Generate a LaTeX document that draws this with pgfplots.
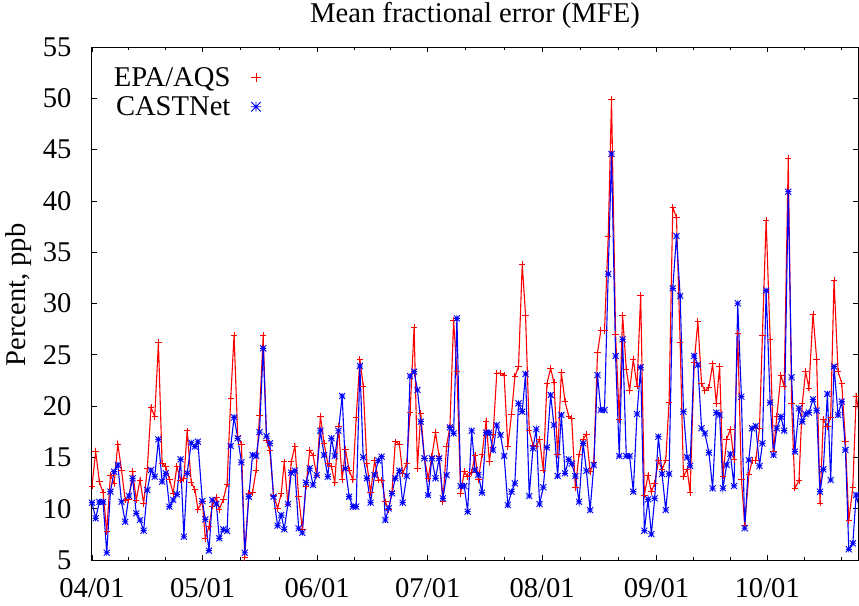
\documentclass[border=0pt]{standalone}
\usepackage{pgfplots}
\usepackage{pgfplotstable}
\pgfplotsset{compat=1.18}
\usepackage{fontspec}
\setmainfont{Liberation Serif}
\pgfdeclareplotmark{gpstar}{%
 \pgfpathmoveto{\pgfqpoint{-\pgfplotmarksize}{0pt}}\pgfpathlineto{\pgfqpoint{\pgfplotmarksize}{0pt}}%
 \pgfpathmoveto{\pgfqpoint{0pt}{-\pgfplotmarksize}}\pgfpathlineto{\pgfqpoint{0pt}{\pgfplotmarksize}}%
 \pgfpathmoveto{\pgfqpoint{-\pgfplotmarksize}{-\pgfplotmarksize}}\pgfpathlineto{\pgfqpoint{\pgfplotmarksize}{\pgfplotmarksize}}%
 \pgfpathmoveto{\pgfqpoint{-\pgfplotmarksize}{\pgfplotmarksize}}\pgfpathlineto{\pgfqpoint{\pgfplotmarksize}{-\pgfplotmarksize}}%
 \pgfusepathqstroke}
\pgfplotstableread{
x r b
0 12.21 10.59
1 15.56 9.06
2 12.63 10.67
3 11.56 10.67
4 7.76 5.71
5 13.28 11.66
6 12.47 13.61
7 16.30 14.26
8 13.77 10.68
9 10.85 8.73
10 10.91 11.24
11 13.61 12.96
12 10.85 9.55
13 12.80 8.90
14 10.52 7.86
15 13.93 11.82
16 19.88 13.77
17 18.97 13.12
18 26.18 16.76
19 14.42 12.63
20 14.10 13.45
21 12.86 10.20
22 11.50 10.85
23 14.10 11.40
24 12.80 14.81
24.9 12.90 7.27
25.8 17.60 13.45
26.9 12.54 16.43
27.9 11.89 16.05
28.7 9.94 16.53
29.9 10.68 10.75
30.7 7.11 8.96
31.7 8.25 5.91
32.6 10.26 10.85
33.7 11.11 10.46
34.5 9.94 7.11
35.6 10.91 7.99
36.6 12.41 7.83
37.6 20.72 16.11
38.5 26.93 18.90
39.5 17.02 16.86
40.5 16.30 14.52
41.4 5.26 5.71
42.5 11.50 11.17
43.5 11.56 15.23
44.5 13.77 15.14
45.4 19.13 17.47
46.4 26.93 25.63
47.3 16.69 17.08
48.2 15.66 16.37
49.2 11.33 11.17
50.3 10.03 8.35
51.3 11.50 9.38
52.1 14.58 7.99
53.1 10.46 10.46
54.0 14.58 13.51
55.0 16.11 13.71
56.0 11.17 8.09
57.0 7.99 7.66
58.0 12.21 12.54
59.0 15.66 13.93
59.9 15.23 12.31
60.9 13.28 13.28
61.9 19.03 17.60
62.9 16.37 15.23
63.9 14.42 13.12
64.9 14.10 16.86
65.8 12.54 15.14
66.8 18.06 17.60
67.8 12.86 20.98
68.7 15.78 13.93
69.7 13.71 11.17
70.7 12.86 10.20
71.6 18.90 10.20
72.6 24.56 23.91
73.5 21.96 15.01
74.5 14.42 12.96
75.5 11.56 10.59
76.6 14.68 13.28
77.6 12.80 14.70
78.5 12.80 15.07
79.5 10.68 8.90
80.4 9.94 10.03
81.3 11.66 11.50
82.2 16.53 12.96
83.3 16.30 13.71
84.2 13.45 10.59
85.3 14.42 13.19
86.2 19.36 22.93
87.3 27.68 23.36
88.2 13.93 21.57
89.1 19.29 18.48
90.1 14.91 14.91
91.1 12.96 11.33
92.1 15.07 14.91
93.1 17.41 12.96
94.1 15.07 14.91
95.1 10.68 11.01
96.1 16.11 13.28
97.0 17.99 17.93
98.0 28.33 17.34
98.9 23.36 28.55
99.9 11.50 12.21
100.9 13.61 12.21
101.8 13.12 9.71
102.9 13.51 17.60
103.8 15.23 13.77
104.7 12.86 13.29
105.7 15.24 11.57
106.8 18.48 17.41
107.7 14.59 17.41
108.7 17.19 15.72
109.7 23.20 18.16
110.7 23.20 17.19
111.7 23.03 15.14
112.7 16.05 10.36
113.7 19.23 11.66
114.6 22.87 12.48
115.6 23.85 20.27
116.6 33.85 19.46
117.5 28.88 23.13
118.5 17.61 11.24
119.5 16.21 15.89
120.4 16.11 17.74
121.3 16.76 10.46
122.3 13.77 12.09
123.3 22.22 15.98
124.3 23.68 21.08
125.2 22.29 18.16
126.2 15.24 13.19
127.2 23.26 19.13
128.2 20.43 13.45
129.2 19.04 14.81
130.0 18.80 14.40
131.0 12.08 13.18
132.0 15.33 10.68
133.1 16.76 16.37
134.0 17.28 13.70
135.0 13.60 9.87
136.0 14.48 14.26
137.0 25.20 23.03
137.9 27.35 19.62
138.9 27.35 19.62
139.9 36.51 32.87
140.8 49.90 44.57
141.9 27.02 24.88
142.9 18.71 15.13
143.8 28.88 26.50
144.8 23.58 15.13
145.7 21.50 15.13
146.7 24.55 11.66
147.7 21.96 19.23
148.7 30.83 23.77
149.7 11.33 7.86
150.7 13.28 10.91
151.6 11.66 7.53
152.5 12.47 11.01
153.5 14.68 17.02
154.5 13.83 13.38
155.5 14.74 9.87
156.4 20.40 13.40
157.4 39.38 31.48
158.4 38.40 36.58
159.4 26.19 30.73
160.3 13.13 19.46
161.3 13.84 15.01
162.1 11.57 14.17
163.2 24.24 24.89
164.2 28.23 24.01
165.2 22.22 17.84
166.1 21.51 17.35
167.2 21.83 15.47
168.2 24.11 11.99
169.2 20.27 19.36
170.1 23.91 19.14
171.0 13.19 11.99
172.0 16.76 14.26
173.0 17.74 15.33
174.0 14.81 12.22
175.0 27.10 30.02
176.0 12.86 20.92
176.9 8.41 8.09
178.0 13.29 14.75
178.9 14.68 17.84
179.9 14.68 18.06
180.9 17.84 14.17
181.7 26.93 16.37
182.7 38.14 31.26
183.8 26.45 20.34
184.7 15.56 15.24
185.6 18.97 17.84
186.7 23.03 18.97
187.6 21.90 17.61
188.7 44.15 40.90
189.6 20.27 22.81
190.5 11.99 15.56
191.6 12.74 19.79
192.5 20.27 18.49
193.4 23.36 19.23
194.3 21.74 19.36
195.4 28.98 20.66
196.4 24.56 19.56
197.3 10.53 11.66
198.2 18.71 13.84
199.3 18.00 21.18
200.2 18.91 12.80
201.1 32.29 23.85
202.2 23.36 19.14
203.2 22.22 20.44
204.2 16.54 15.73
205.1 8.84 6.04
206.2 12.09 6.63
207.1 20.92 11.34
207.9 19.30 10.20
}\mfe
\begin{document}
\begin{tikzpicture}[font=\fontsize{28.6}{34}\selectfont]
\begin{axis}[
  name=ax,
  width=766pt, height=513pt, scale only axis,
  xmin=0, xmax=207.6, ymin=5, ymax=55,
  xtick={0,30,61,91,122,153,183},
  xticklabels={04/01,05/01,06/01,07/01,08/01,09/01,10/01},
  minor xtick={10,20,40.3,50.7,71,81,101.3,111.7,132.3,142.7,163,173,193,203},
  ytick={5,10,15,20,25,30,35,40,45,50,55},
  tick align=inside,
  major tick length=5pt, minor tick length=3pt,
  every tick/.style={black, line width=0.8pt},
  axis line style={line width=1pt},
  /pgf/number format/assume math mode=true,
  tick label style={font=\fontsize{28.6}{34}\selectfont},
  yticklabel style={xshift=-17pt},
  xticklabel style={yshift=-15pt},
  title={Mean fractional error (MFE)},
  title style={at={(axis description cs:0.5,1)}, anchor=base, yshift=18pt, font=\fontsize{28.6}{34}\selectfont},
  ylabel={Percent, ppb},
  ylabel style={at={(axis description cs:-0.0953,0.5166)}, anchor=center, font=\fontsize{28.6}{34}\selectfont},
  legend plot pos=right,
  legend cell align=right,
  legend style={draw=none, fill=none, at={(axis description cs:0.2245,0.969)}, anchor=north east,
    font=\fontsize{28.6}{34}\selectfont, row sep=5pt},
  legend image code/.code={\path (0pt,0pt) (27pt,0pt); \draw[#1, only marks, mark size=4.8pt] plot coordinates {(23pt,0pt)};},
]
\addplot[red, line width=1.1pt, mark=+, mark size=3.2pt, mark options={solid, line width=0.9pt}] table[x=x, y=r] {\mfe};
\addlegendentry{EPA/AQS}
\addplot[blue, line width=1.1pt, mark=gpstar, mark size=3pt, mark options={solid, line width=0.9pt}] table[x=x, y=b] {\mfe};
\addlegendentry{CASTNet}
\end{axis}
\pgfresetboundingbox
\path ([shift={(-92pt,-45pt)}]ax.south west) rectangle ++(859pt,605pt);
\end{tikzpicture}
\end{document}
